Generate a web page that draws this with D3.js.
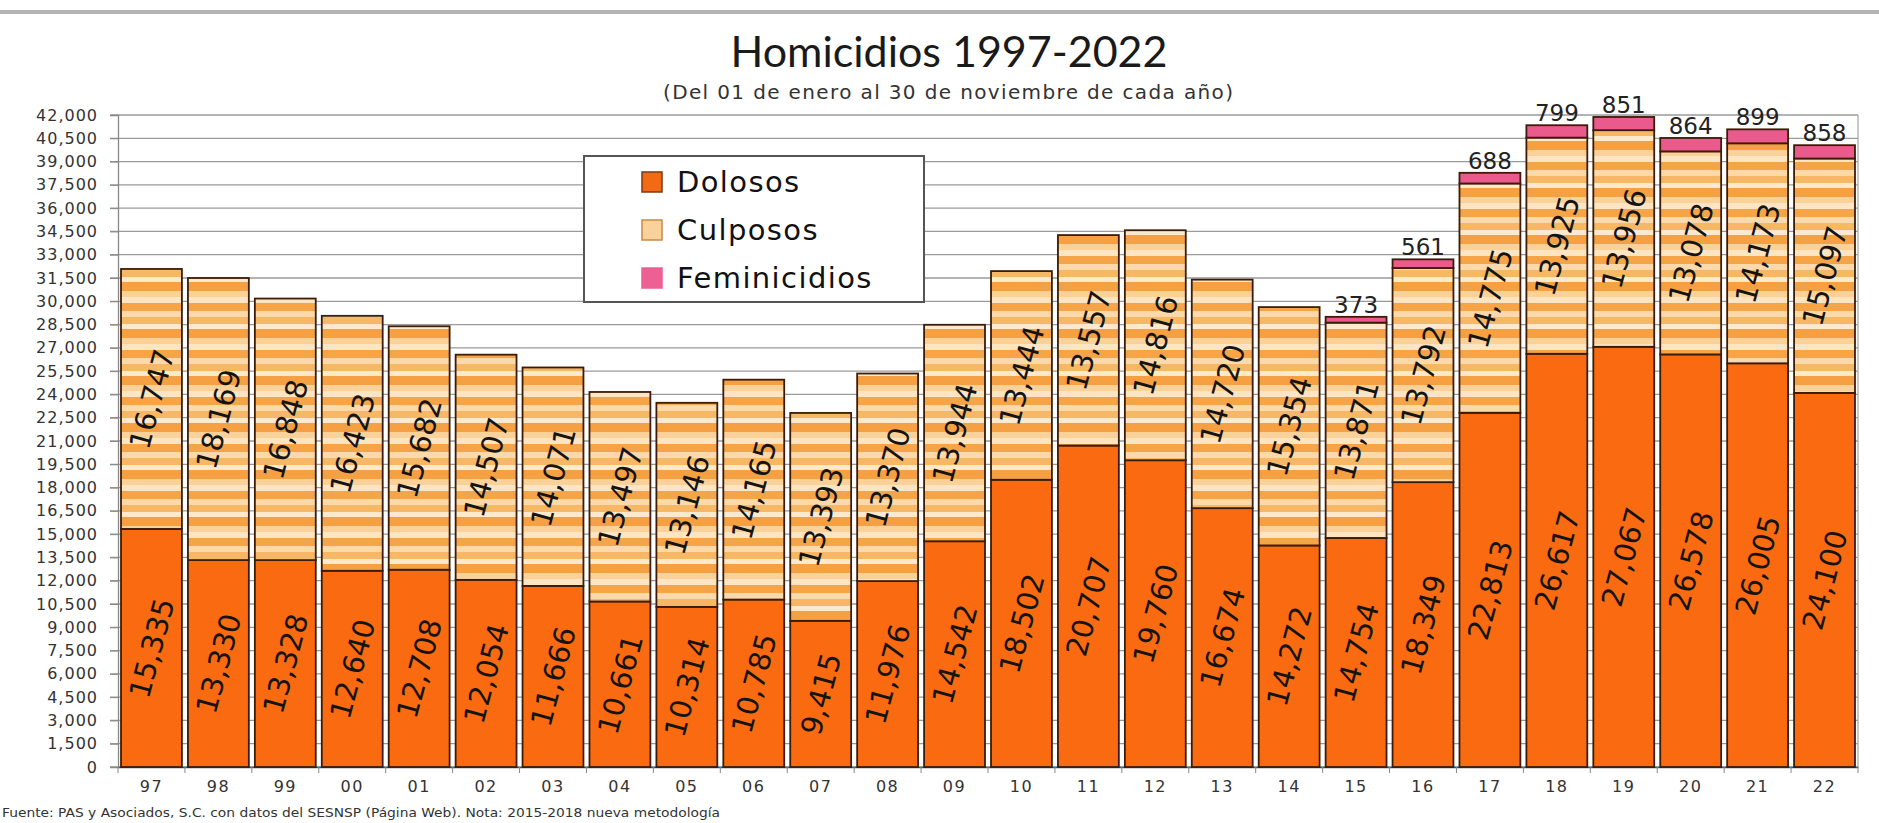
<!DOCTYPE html>
<html lang="es">
<head>
<meta charset="UTF-8">
<title>Homicidios 1997-2022</title>
<script src="https://d3js.org/d3.v7.min.js"></script>
<style>
  body { margin: 0; background: #fff; overflow: hidden; }
  svg text { font-family: "DejaVu Sans", sans-serif; }
</style>
</head>
<body>
<div id="chart"></div>
<script>
// categories and series
var years = ["97","98","99","00","01","02","03","04","05","06","07","08","09",
             "10","11","12","13","14","15","16","17","18","19","20","21","22"];
var dolosos = [15335, 13330, 13328, 12640, 12708, 12054, 11666, 10661, 10314, 10785, 9415, 11976, 14542,
               18502, 20707, 19760, 16674, 14272, 14754, 18349, 22813, 26617, 27067, 26578, 26005, 24100];
var culposos = [16747, 18169, 16848, 16423, 15682, 14507, 14071, 13497, 13146, 14165, 13393, 13370, 13944,
                13444, 13557, 14816, 14720, 15354, 13871, 13792, 14775, 13925, 13956, 13078, 14173, 15097];
var feminicidios = [0, 0, 0, 0, 0, 0, 0, 0, 0, 0, 0, 0, 0,
                    0, 0, 0, 0, 0, 373, 561, 688, 799, 851, 864, 899, 858];
var seriesNames = ["Dolosos", "Culposos", "Feminicidios"];
var yTicks = d3.range(0, 42001, 1500);

var W = 1879, H = 823;
var margin = {top: 115, right: 21, bottom: 56, left: 118};
var width = W - margin.left - margin.right,
    height = H - margin.top - margin.bottom;

var svg = d3.select("#chart").append("svg")
    .attr("width", W)
    .attr("height", H);

// striped fill used by the "Culposos" segments
var defs = svg.append("defs");
var pat = defs.append("pattern")
    .attr("id", "stripes")
    .attr("patternUnits", "userSpaceOnUse")
    .attr("width", 10)
    .attr("height", 47);
var bands = [["#f5a448", 8], ["#fcd9aa", 6], ["#f7b865", 7], ["#fee9cd", 5], ["#f4a043", 9], ["#fbd19a", 6], ["#fde4c2", 6]];
var off = 0;
bands.forEach(function(b) {
  pat.append("rect").attr("x", 0).attr("y", off).attr("width", 10).attr("height", b[1]).attr("fill", b[0]);
  off += b[1];
});

var colors = {Dolosos: "#f96a11", Culposos: "url(#stripes)", Feminicidios: "#ea5a8c"};

// top frame line of the picture
svg.append("rect").attr("x", 0).attr("y", 10).attr("width", W).attr("height", 4).attr("fill", "#b4b4b4");

// titles
svg.append("text")
    .attr("x", 949).attr("y", 67)
    .attr("text-anchor", "middle")
    .style("font-family", "Lato, sans-serif")
    .style("font-size", "43px")
    .attr("fill", "#1a1a1a")
    .text("Homicidios 1997-2022");
svg.append("text")
    .attr("x", 948).attr("y", 99)
    .attr("text-anchor", "middle")
    .style("font-size", "20px")
    .attr("textLength", 570)
    .attr("lengthAdjust", "spacing")
    .attr("fill", "#333")
    .text("(Del 01 de enero al 30 de noviembre de cada año)");

var g = svg.append("g")
    .attr("transform", "translate(" + margin.left + "," + margin.top + ")");

var x = d3.scaleBand()
    .domain(years)
    .range([0, width])
    .paddingInner(0.09)
    .paddingOuter(0.045);

var y = d3.scaleLinear()
    .domain([0, 42000])
    .range([height, 0]);

// grid lines
g.append("g")
    .selectAll("line")
    .data(yTicks)
    .enter().append("line")
    .attr("x1", -8).attr("x2", width)
    .attr("y1", function(d) { return y(d); })
    .attr("y2", function(d) { return y(d); })
    .attr("stroke", "#9a9a9a")
    .attr("stroke-width", 1.3);

// right frame
g.append("line")
    .attr("x1", width).attr("x2", width)
    .attr("y1", 0).attr("y2", height)
    .attr("stroke", "#aaa").attr("stroke-width", 1.3);

// y axis
var yAxis = g.append("g")
    .call(d3.axisLeft(y).tickValues(yTicks).tickFormat(d3.format(",")).tickSize(8).tickPadding(12));
yAxis.select(".domain").attr("stroke", "#888").attr("stroke-width", 1.3);
yAxis.selectAll(".tick line").attr("stroke", "#888");
yAxis.selectAll("text")
    .style("font-size", "16px")
    .style("letter-spacing", "1px")
    .attr("fill", "#333");

// x axis
var xAxis = g.append("g")
    .attr("transform", "translate(0," + height + ")")
    .call(d3.axisBottom(x).tickSize(0).tickPadding(14));
xAxis.select(".domain").attr("stroke", "#555").attr("stroke-width", 1.5);
xAxis.selectAll("text")
    .style("font-size", "16px")
    .style("letter-spacing", "1.5px")
    .attr("fill", "#333");
// tick marks between categories
g.append("g")
    .selectAll("line")
    .data(d3.range(years.length + 1))
    .enter().append("line")
    .attr("x1", function(i) { return i * width / years.length; })
    .attr("x2", function(i) { return i * width / years.length; })
    .attr("y1", height).attr("y2", height + 6)
    .attr("stroke", "#888");

// stacked data
var rows = years.map(function(yr, i) {
  return {year: yr, Dolosos: dolosos[i], Culposos: culposos[i], Feminicidios: feminicidios[i]};
});
var stack = d3.stack().keys(seriesNames)(rows);

var layers = g.selectAll(".layer")
    .data(stack)
    .enter().append("g")
    .attr("class", "layer")
    .attr("fill", function(s) { return colors[s.key]; });

layers.selectAll("rect")
    .data(function(s) { return s.filter(function(d) { return d[1] > d[0]; }); })
    .enter().append("rect")
    .attr("x", function(d) { return x(d.data.year); })
    .attr("y", function(d) { return y(d[1]); })
    .attr("width", x.bandwidth())
    .attr("height", function(d) { return y(d[0]) - y(d[1]); })
    .attr("stroke", "#3a1c08")
    .attr("stroke-width", 1.8);

// rotated labels inside Dolosos and Culposos segments
stack.slice(0, 2).forEach(function(s) {
  g.append("g").selectAll("text")
    .data(s)
    .enter().append("text")
    .attr("transform", function(d) {
      var cx = x(d.data.year) + x.bandwidth() / 2;
      var cy = y((d[0] + d[1]) / 2);
      return "translate(" + cx + "," + cy + ") rotate(-75)";
    })
    .attr("text-anchor", "middle")
    .attr("dy", "0.36em")
    .style("font-size", "29px")
    .attr("fill", "#141414")
    .text(function(d) { return d3.format(",")(d.data[s.key]); });
});

// Feminicidios labels above the bars
g.append("g").selectAll("text")
    .data(stack[2].filter(function(d) { return d[1] > d[0]; }))
    .enter().append("text")
    .attr("x", function(d) { return x(d.data.year) + x.bandwidth() / 2; })
    .attr("y", function(d) { return y(d[1]) - 4; })
    .attr("text-anchor", "middle")
    .style("font-size", "23px")
    .attr("fill", "#222")
    .text(function(d) { return d3.format(",")(d.data.Feminicidios); });

// legend
var legend = svg.append("g").attr("transform", "translate(584,156)");
legend.append("rect")
    .attr("width", 340).attr("height", 146)
    .attr("fill", "#fff")
    .attr("stroke", "#555").attr("stroke-width", 2);
var swatch = {Dolosos: ["#f26b14", "#7a3a10"], Culposos: ["#f9d29b", "#c98a45"], Feminicidios: ["#ee5f94", "#ee5f94"]};
seriesNames.forEach(function(name, i) {
  var row = legend.append("g").attr("transform", "translate(58," + (16 + i * 48) + ")");
  row.append("rect")
    .attr("width", 20).attr("height", 20)
    .attr("fill", swatch[name][0])
    .attr("stroke", swatch[name][1]).attr("stroke-width", 1.5);
  row.append("text")
    .attr("x", 35).attr("y", 10)
    .attr("dy", "0.36em")
    .style("font-size", "29px")
    .style("letter-spacing", "1.4px")
    .attr("fill", "#111")
    .text(name);
});

// source note
svg.append("text")
    .attr("x", 2).attr("y", 817)
    .style("font-size", "13px")
    .attr("textLength", 718)
    .attr("lengthAdjust", "spacingAndGlyphs")
    .attr("fill", "#333")
    .text("Fuente: PAS y Asociados, S.C. con datos del SESNSP (Página Web). Nota: 2015-2018 nueva metodología");
</script>
</body>
</html>
